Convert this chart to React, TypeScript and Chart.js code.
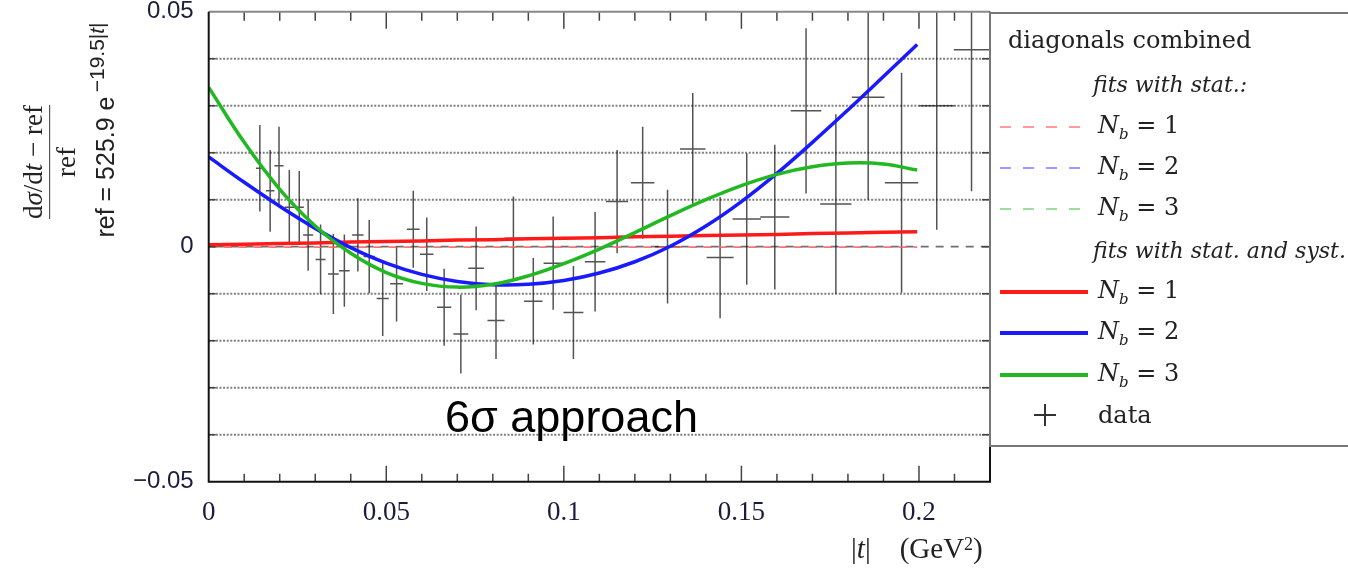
import React, { useEffect, useRef } from 'react';
import { Chart, registerables } from 'chart.js';

Chart.register(...registerables);

// ---- fit curves (|t| grid and fitted relative deviations) ----
const fitT = [0, 0.01, 0.02, 0.03, 0.04, 0.05, 0.06, 0.07, 0.08, 0.09, 0.1, 0.11, 0.12, 0.13, 0.14, 0.15, 0.16, 0.17, 0.18, 0.19, 0.1995];
const fitRed = [0.0004, 0.0005, 0.0007, 0.0008, 0.001, 0.0011, 0.0012, 0.0014, 0.0015, 0.0017, 0.0018, 0.0019, 0.0021, 0.0022, 0.0024, 0.0025, 0.0026, 0.0028, 0.0029, 0.0031, 0.0032];
const fitBlue = [0.0191, 0.0137, 0.0086, 0.0039, -0.0002, -0.0035, -0.0059, -0.0074, -0.0081, -0.008, -0.0072, -0.0056, -0.0032, 0.0001, 0.0044, 0.0096, 0.0156, 0.0222, 0.0291, 0.0362, 0.043];
const fitGreen = [0.0339, 0.0222, 0.0122, 0.0044, -0.0014, -0.0055, -0.0078, -0.0086, -0.008, -0.0062, -0.0036, -0.0005, 0.003, 0.0066, 0.01, 0.013, 0.0154, 0.017, 0.0178, 0.0176, 0.0163];
const statT = [0, 0.1995];
const statRed = [-0.0001, -0.0001];

// ---- data points ----
const dataT = [0.0144, 0.0173, 0.0198, 0.0227, 0.0255, 0.028, 0.0315, 0.0351, 0.0382, 0.042, 0.0452, 0.049, 0.0529, 0.0576, 0.0614, 0.0663, 0.071, 0.0753, 0.0809, 0.0858, 0.0914, 0.097, 0.1027, 0.1088, 0.115, 0.1222, 0.1292, 0.1363, 0.144, 0.1515, 0.1594, 0.1682, 0.1766, 0.1857, 0.1951, 0.205, 0.2148];
const dataV = [0.0167, 0.0119, 0.0172, 0.0084, 0.0084, 0.0025, -0.0027, -0.0058, -0.0051, 0.0025, -0.0021, -0.011, -0.0079, 0.0037, -0.0016, -0.0129, -0.0186, -0.0046, -0.0157, 0.0018, -0.0116, -0.0035, -0.014, -0.0032, 0.0096, 0.0136, 0.0, 0.0208, -0.0023, 0.0059, 0.0063, 0.0289, 0.0091, 0.0318, 0.0136, 0.03, 0.0419];
const dataErr = [0.0092, 0.0087, 0.0083, 0.0079, 0.0077, 0.0076, 0.0074, 0.0085, 0.0077, 0.0078, 0.0078, 0.008, 0.008, 0.0082, 0.0078, 0.0082, 0.0084, 0.0089, 0.0082, 0.0089, 0.0092, 0.0099, 0.0099, 0.0106, 0.011, 0.0119, 0.0121, 0.0119, 0.0129, 0.014, 0.0154, 0.0176, 0.0191, 0.0218, 0.0234, 0.0264, 0.0301];
const dataHalfW = [0.0011, 0.0012, 0.0013, 0.0013, 0.0013, 0.0014, 0.0014, 0.0015, 0.0015, 0.0016, 0.0016, 0.0017, 0.0018, 0.0018, 0.0019, 0.002, 0.0021, 0.0022, 0.0024, 0.0025, 0.0026, 0.0027, 0.0028, 0.0029, 0.0031, 0.0033, 0.0035, 0.0036, 0.0038, 0.004, 0.0041, 0.0043, 0.0044, 0.0046, 0.0047, 0.0049, 0.005];

// ---- axes ----
const xTickValues = [0, 0.05, 0.1, 0.15, 0.2];
const yTickValues = [-0.05, 0, 0.05];
const xMinorTicks = [0.01, 0.02, 0.03, 0.04, 0.06, 0.07, 0.08, 0.09, 0.11, 0.12, 0.13, 0.14, 0.16, 0.17, 0.18, 0.19, 0.21];
const xMajorTicks = [0.05, 0.1, 0.15, 0.2];
const yGridValues = [-0.04, -0.03, -0.02, -0.01, 0.01, 0.02, 0.03, 0.04];
const yTickMarks = [-0.04, -0.03, -0.02, -0.01, 0, 0.01, 0.02, 0.03, 0.04];

const fmt = (v: number) => (v < 0 ? '\u2212' + String(Math.abs(v)) : String(v));

const decorPlugin = {
  id: 'decor',
  beforeDatasetsDraw(chart: any) {
    const { ctx, chartArea: a, scales } = chart;
    const x = scales.x, y = scales.y;
    ctx.save();
    ctx.beginPath();
    ctx.rect(a.left, a.top, a.right - a.left, a.bottom - a.top);
    ctx.clip();
    // dotted horizontal grid
    ctx.strokeStyle = 'rgba(105,105,105,0.85)';
    ctx.lineWidth = 2;
    ctx.setLineDash([2, 1.6]);
    yGridValues.forEach((v) => {
      const py = y.getPixelForValue(v);
      ctx.beginPath();
      ctx.moveTo(a.left, py);
      ctx.lineTo(a.right, py);
      ctx.stroke();
    });
    // dashed zero line
    ctx.strokeStyle = 'rgba(95,95,95,0.9)';
    ctx.lineWidth = 1.8;
    ctx.setLineDash([8, 7]);
    ctx.lineDashOffset = 8;
    const p0 = y.getPixelForValue(0);
    ctx.beginPath();
    ctx.moveTo(a.left, p0);
    ctx.lineTo(a.right, p0);
    ctx.stroke();
    ctx.lineDashOffset = 0;
    // data crosses
    ctx.setLineDash([]);
    ctx.strokeStyle = 'rgba(25,25,25,0.75)';
    ctx.lineWidth = 1.5;
    dataT.forEach((t, i) => {
      const px = x.getPixelForValue(t);
      const py = y.getPixelForValue(dataV[i]);
      const yt = y.getPixelForValue(dataV[i] + dataErr[i]);
      const yb = y.getPixelForValue(dataV[i] - dataErr[i]);
      ctx.beginPath();
      ctx.moveTo(px, yt);
      ctx.lineTo(px, yb);
      ctx.moveTo(x.getPixelForValue(t - dataHalfW[i]), py);
      ctx.lineTo(x.getPixelForValue(t + dataHalfW[i]), py);
      ctx.stroke();
    });
    ctx.restore();
  },
  afterDatasetsDraw(chart: any) {
    const { ctx, chartArea: a, scales } = chart;
    const x = scales.x, y = scales.y;
    ctx.save();
    ctx.setLineDash([]);
    // ticks (inward)
    ctx.strokeStyle = '#444';
    ctx.lineWidth = 1.5;
    ctx.beginPath();
    xMinorTicks.forEach((v) => {
      const px = x.getPixelForValue(v);
      ctx.moveTo(px, a.top); ctx.lineTo(px, a.top + 9);
      ctx.moveTo(px, a.bottom); ctx.lineTo(px, a.bottom - 8);
    });
    xMajorTicks.forEach((v) => {
      const px = x.getPixelForValue(v);
      ctx.moveTo(px, a.top); ctx.lineTo(px, a.top + 17);
      ctx.moveTo(px, a.bottom); ctx.lineTo(px, a.bottom - 16);
    });
    yTickMarks.forEach((v) => {
      const py = y.getPixelForValue(v);
      ctx.moveTo(a.left, py); ctx.lineTo(a.left + 7, py);
      ctx.moveTo(a.right, py); ctx.lineTo(a.right - 8, py);
    });
    ctx.stroke();
    // frame
    ctx.lineWidth = 2;
    ctx.strokeStyle = '#888';
    ctx.beginPath();
    ctx.moveTo(a.left, a.top); ctx.lineTo(a.right, a.top);
    ctx.stroke();
    ctx.strokeStyle = '#111';
    ctx.beginPath();
    ctx.moveTo(a.left, a.top); ctx.lineTo(a.left, a.bottom); ctx.lineTo(a.right, a.bottom); ctx.lineTo(a.right, a.top);
    ctx.stroke();
    ctx.restore();
  },
};

const pts = (xs: number[], ys: number[]) => xs.map((v, i) => ({ x: v, y: ys[i] }));

const serif = "'Liberation Serif', 'DejaVu Serif', serif";
const sans = "'Liberation Sans', Arial, sans-serif";
const legendFont = "'DejaVu Serif', 'Liberation Serif', serif";

const LegendRow = ({ y, children }: { y: number; children: any }) => (
  <div style={{ position: 'absolute', left: 0, top: y - 16, height: 32, width: 400, display: 'flex', alignItems: 'center' }}>{children}</div>
);

const Nb = ({ n }: { n: number }) => (
  <span style={{ position: 'absolute', left: 1098, fontFamily: legendFont, fontSize: 24, color: '#222', whiteSpace: 'nowrap' }}>
    <i>N</i><sub style={{ fontSize: 15 }}><i>b</i></sub> = {n}
  </span>
);

const Sample = ({ color, dashed }: { color: string; dashed?: boolean }) => (
  <div
    style={{
      position: 'absolute',
      left: 1000,
      width: 88,
      height: dashed ? 2 : 4,
      background: dashed ? `repeating-linear-gradient(to right, ${color} 0 11px, transparent 11px 23px)` : color,
    }}
  />
);

export default function App() {
  const ref = useRef<HTMLCanvasElement | null>(null);
  useEffect(() => {
    if (!ref.current) return;
    const chart = new Chart(ref.current, {
      type: 'scatter',
      data: {
        datasets: [
          { data: pts(fitT, fitGreen), showLine: true, borderColor: '#22b822', borderWidth: 3.5, pointRadius: 0, tension: 0.4 },
          { data: pts(fitT, fitBlue), showLine: true, borderColor: '#1a1aff', borderWidth: 3.5, pointRadius: 0, tension: 0.4 },
          { data: pts(fitT, fitRed), showLine: true, borderColor: '#ff1a1a', borderWidth: 3.5, pointRadius: 0, tension: 0 },
          { data: pts(statT, statRed), showLine: true, borderColor: 'rgba(255,90,90,0.85)', borderWidth: 1.8, borderDash: [8, 7], pointRadius: 0 },
        ],
      },
      options: {
        animation: false,
        responsive: false,
        events: [],
        layout: { padding: { left: 0, top: 11.7, right: 358, bottom: 0 } },
        plugins: { legend: { display: false }, tooltip: { enabled: false } },
        scales: {
          x: {
            type: 'linear',
            min: 0,
            max: 0.22,
            grid: { display: false, drawTicks: false },
            border: { display: false },
            afterBuildTicks: (s: any) => { s.ticks = xTickValues.map((v) => ({ value: v })); },
            afterFit: (s: any) => { s.height = 86.3; s.paddingLeft = 0; s.paddingRight = 0; s.paddingTop = 0; s.paddingBottom = 0; },
            ticks: { padding: 15, color: '#1c1c3c', font: { family: serif, size: 27 }, callback: (v: any) => fmt(Number(v)), maxRotation: 0, autoSkip: false },
          },
          y: {
            type: 'linear',
            min: -0.05,
            max: 0.05,
            grid: { display: false, drawTicks: false },
            border: { display: false },
            afterBuildTicks: (s: any) => { s.ticks = yTickValues.map((v) => ({ value: v })); },
            afterFit: (s: any) => { s.width = 208.7; s.paddingLeft = 0; s.paddingRight = 0; s.paddingTop = 0; s.paddingBottom = 0; },
            ticks: { padding: 15, color: '#1c1c3c', font: { family: sans, size: 24, lineHeight: 0.9 }, callback: (v: any) => fmt(Number(v)), autoSkip: false },
          },
        },
      },
      plugins: [decorPlugin],
    } as any);
    return () => chart.destroy();
  }, []);

  return (
    <div style={{ position: 'fixed', left: 0, top: 0, width: 1348, height: 568, background: '#fff', overflow: 'hidden' }}>
      <canvas ref={ref} width={1348} height={568} style={{ position: 'absolute', left: 0, top: 0, display: 'block' }} />

      {/* y-axis title: fraction */}
      <div
        style={{
          position: 'absolute', left: 50, top: 162, transform: 'translate(-50%, -50%) rotate(-90deg)',
          display: 'flex', flexDirection: 'column', alignItems: 'center', fontFamily: serif, fontSize: 27, color: '#222', whiteSpace: 'nowrap', lineHeight: 1.05,
        }}
      >
        <div>d<i>σ</i>/d<i>t</i> &minus; ref</div>
        <div style={{ alignSelf: 'stretch', borderTop: '1.6px solid #333', margin: '2px 0' }} />
        <div>ref</div>
      </div>
      {/* y-axis title: reference function */}
      <div
        style={{
          position: 'absolute', left: 102, top: 130, transform: 'translate(-50%, -50%) rotate(-90deg)',
          fontFamily: sans, fontSize: 25, color: '#222', whiteSpace: 'nowrap', lineHeight: 1,
        }}
      >
        ref = 525.9 e<sup style={{ fontSize: 21, verticalAlign: '0.5em' }}>&thinsp;&minus;19.5|<i>t</i>|</sup>
      </div>

      {/* x-axis title */}
      <div style={{ position: 'absolute', left: 851, top: 534, fontFamily: serif, fontSize: 29, color: '#222', whiteSpace: 'nowrap', lineHeight: 1 }}>
        |<i>t</i>|&nbsp;&nbsp;&nbsp;&nbsp;(GeV<sup style={{ fontSize: 18, verticalAlign: '0.45em' }}>2</sup>)
      </div>

      {/* annotation */}
      <div style={{ position: 'absolute', left: 445, top: 394, fontFamily: sans, fontSize: 45, lineHeight: '45px', color: '#000', whiteSpace: 'nowrap' }}>
        6σ approach
      </div>

      {/* legend */}
      <div style={{ position: 'absolute', left: 989, top: 12, width: 400, height: 431, borderTop: '2px solid #777', borderBottom: '2px solid #777', borderLeft: '2px solid #777' }} />
      <div style={{ position: 'absolute', left: 0, top: 0, width: 1348, height: 568 }}>
        <LegendRow y={40}>
          <span style={{ position: 'absolute', left: 1008, fontFamily: legendFont, fontSize: 24, color: '#222', whiteSpace: 'nowrap' }}>diagonals combined</span>
        </LegendRow>
        <LegendRow y={84}>
          <span style={{ position: 'absolute', left: 1093, fontFamily: legendFont, fontStyle: 'italic', fontSize: 22, color: '#222', whiteSpace: 'nowrap' }}>fits with stat.:</span>
        </LegendRow>
        <LegendRow y={127}><Sample color="#ff9a9a" dashed /><Nb n={1} /></LegendRow>
        <LegendRow y={168}><Sample color="#9a9aff" dashed /><Nb n={2} /></LegendRow>
        <LegendRow y={209}><Sample color="#9adf9a" dashed /><Nb n={3} /></LegendRow>
        <LegendRow y={250}>
          <span style={{ position: 'absolute', left: 1093, fontFamily: legendFont, fontStyle: 'italic', fontSize: 22, color: '#222', whiteSpace: 'nowrap' }}>fits with stat. and syst.</span>
        </LegendRow>
        <LegendRow y={292}><Sample color="#ff1a1a" /><Nb n={1} /></LegendRow>
        <LegendRow y={333}><Sample color="#1a1aff" /><Nb n={2} /></LegendRow>
        <LegendRow y={375}><Sample color="#22b822" /><Nb n={3} /></LegendRow>
        <LegendRow y={415}>
          <div style={{ position: 'absolute', left: 1034, width: 22, height: 1.6, background: '#333' }} />
          <div style={{ position: 'absolute', left: 1044.2, top: 5, width: 1.6, height: 22, background: '#333' }} />
          <span style={{ position: 'absolute', left: 1098, fontFamily: legendFont, fontSize: 24, color: '#222', whiteSpace: 'nowrap' }}>data</span>
        </LegendRow>
      </div>
    </div>
  );
}
